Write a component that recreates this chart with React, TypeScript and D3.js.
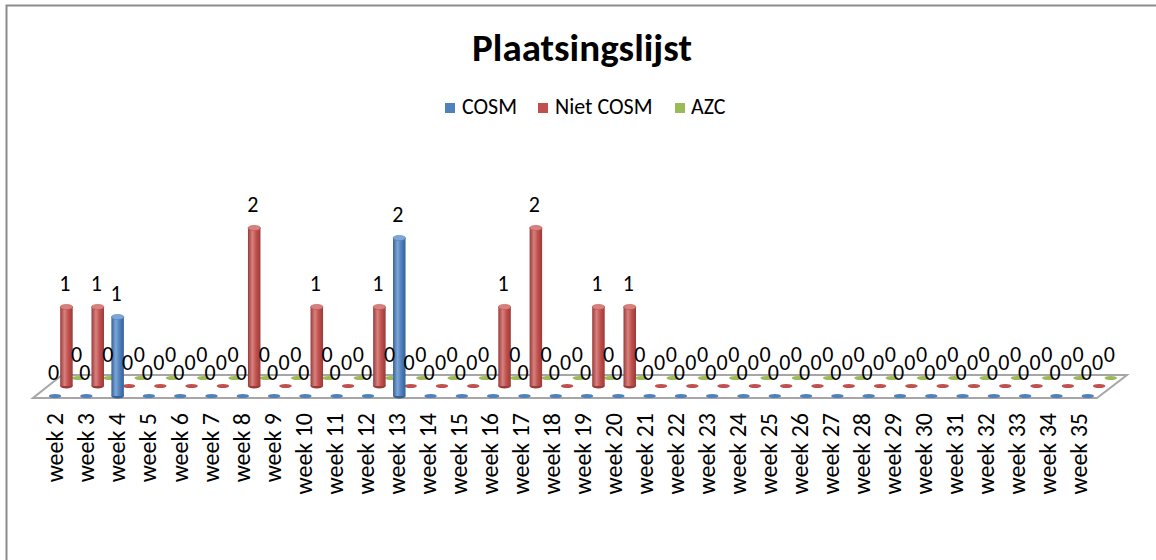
import * as d3 from "d3";

const weeks = [
  "week 2", "week 3", "week 4", "week 5", "week 6", "week 7", "week 8", "week 9",
  "week 10", "week 11", "week 12", "week 13", "week 14", "week 15", "week 16",
  "week 17", "week 18", "week 19", "week 20", "week 21", "week 22", "week 23",
  "week 24", "week 25", "week 26", "week 27", "week 28", "week 29", "week 30",
  "week 31", "week 32", "week 33", "week 34", "week 35",
];

const cosm = [0, 0, 1, 0, 0, 0, 0, 0, 0, 0, 0, 2, 0, 0, 0, 0, 0, 0, 0, 0, 0, 0, 0, 0, 0, 0, 0, 0, 0, 0, 0, 0, 0, 0];
const nietCosm = [1, 1, 0, 0, 0, 0, 2, 0, 1, 0, 1, 0, 0, 0, 1, 2, 0, 1, 1, 0, 0, 0, 0, 0, 0, 0, 0, 0, 0, 0, 0, 0, 0, 0];
const azc = [0, 0, 0, 0, 0, 0, 0, 0, 0, 0, 0, 0, 0, 0, 0, 0, 0, 0, 0, 0, 0, 0, 0, 0, 0, 0, 0, 0, 0, 0, 0, 0, 0, 0];

const seriesNames = ["COSM", "Niet COSM", "AZC"];

const W = 1156;
const H = 560;
const FONT = "Calibri, Carlito, Lato, sans-serif";

// series look: base, dark edge, light highlight, depth offset on the floor
const looks = [
  { base: "#4F81BD", dark: "#36609a", light: "#7ea5d6", dx: 6.4, dy: -2 },
  { base: "#C0504D", dark: "#983b38", light: "#d7817e", dx: 17.8, dy: -12 },
  { base: "#9BBB59", dark: "#7a9640", light: "#b8d27f", dx: 29.5, dy: -20 },
];

export default function App() {
  const floorFront = 398;
  const x = d3.scaleBand<string>().domain(weeks).range([33, 1097]).padding(0);
  const xLabel = d3.scalePoint<string>().domain(weeks).range([55, 1079]);
  const h = d3.scaleLinear().domain([0, 2]).range([0, 158]);

  const all = [cosm, nietCosm, azc];
  const barW = 12.5;
  const rx = barW / 2;
  const ry = 2.6;

  const cx = (si: number, i: number) => (x(weeks[i]) || 0) + x.bandwidth() / 2 + looks[si].dx;
  const base = (si: number) => floorFront + looks[si].dy;

  const order = [2, 1, 0]; // back row first

  return (
    <svg width={W} height={H} style={{ position: "absolute", left: 0, top: 0, background: "#fff" }}>
      <defs>
        {looks.map((l, si) => (
          <linearGradient key={si} id={`cyl${si}`} x1="0" x2="1" y1="0" y2="0">
            <stop offset="0%" stopColor={l.dark} />
            <stop offset="35%" stopColor={l.light} />
            <stop offset="65%" stopColor={l.base} />
            <stop offset="100%" stopColor={l.dark} />
          </linearGradient>
        ))}
      </defs>
      <rect x={6.5} y={5.5} width={W + 20} height={H + 20} fill="#fff" stroke="#8c8c8c" strokeWidth={2} />

      <text x={582} y={61} textAnchor="middle" fontFamily={FONT} fontWeight="bold" fontSize={39} fill="#000">
        Plaatsingslijst
      </text>

      {/* legend */}
      {[
        { x: 445, tx: 462 },
        { x: 538, tx: 555 },
        { x: 675, tx: 691 },
      ].map((p, si) => (
        <g key={si}>
          <rect x={p.x} y={103} width={10} height={10} fill={looks[si].base} />
          <text x={p.tx} y={114} fontFamily={FONT} fontSize={22} fill="#000">
            {seriesNames[si]}
          </text>
        </g>
      ))}

      {/* floor */}
      <path
        d={`M33,${floorFront} L1097,${floorFront} L1127,375 L62,375 Z`}
        fill="#fff"
        stroke="#a6a6a6"
        strokeWidth={2}
      />

      {/* columns */}
      {order.map((si) => (
        <g key={si}>
          {all[si].map((v, i) => {
            const c = cx(si, i);
            const b = base(si);
            const top = b - h(v);
            if (v === 0) {
              return <ellipse key={i} cx={c} cy={b} rx={rx} ry={2} fill={looks[si].base} />;
            }
            return (
              <g key={i}>
                <ellipse cx={c} cy={b} rx={rx} ry={ry} fill={looks[si].dark} />
                <rect x={c - rx} y={top} width={barW} height={b - top} fill={`url(#cyl${si})`} />
                <ellipse cx={c} cy={top} rx={rx} ry={ry} fill={looks[si].light} stroke={looks[si].base} strokeWidth={0.6} />
              </g>
            );
          })}
        </g>
      ))}

      {/* data labels */}
      {order.map((si) => (
        <g key={`l${si}`}>
          {all[si].map((v, i) => (
            <text
              key={i}
              x={cx(si, i) - 1.5}
              y={base(si) - h(v) - 16}
              textAnchor="middle"
              fontFamily={FONT}
              fontSize={22}
              fill="#000"
            >
              {v}
            </text>
          ))}
        </g>
      ))}

      {/* category labels */}
      {weeks.map((w) => (
        <text
          key={w}
          transform={`translate(${xLabel(w)},413) rotate(-90)`}
          textAnchor="end"
          dy="0.35em"
          fontFamily={FONT}
          fontSize={24}
          fill="#000"
        >
          {w}
        </text>
      ))}
    </svg>
  );
}
